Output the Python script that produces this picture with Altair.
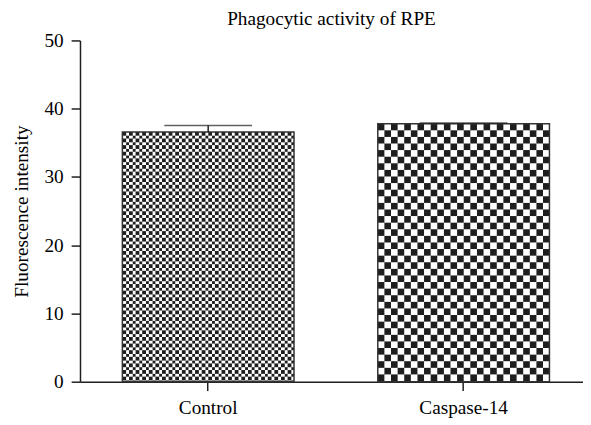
import altair as alt
import pandas as pd
from urllib.parse import quote

groups = ["Control", "Caspase-14"]
means = [36.6, 37.8]
sems = [0.95, 0.12]
y_ticks = [0, 10, 20, 30, 40, 50]

df = pd.DataFrame({"group": groups, "mean": means, "sem": sems})
df["upper"] = df["mean"] + df["sem"]

FONT = "Liberation Serif"
FS = 19.5
INK = "#1e1e1e"


def checker(cell, w, h, ink):
    s = cell
    svg = (
        f"<svg xmlns='http://www.w3.org/2000/svg' width='{w}' height='{h}' shape-rendering='crispEdges'>"
        f"<defs><pattern id='p' width='{2*s}' height='{2*s}' patternUnits='userSpaceOnUse'>"
        f"<rect width='{2*s}' height='{2*s}' fill='white'/>"
        f"<rect width='{s}' height='{s}' fill='{ink}'/>"
        f"<rect x='{s}' y='{s}' width='{s}' height='{s}' fill='{ink}'/>"
        "</pattern></defs><rect width='100%' height='100%' fill='url(#p)'/></svg>"
    )
    return "data:image/svg+xml;charset=utf-8," + quote(svg)


fine_url = checker(3.35, 174, 253, INK)
coarse_url = checker(6.7, 174, 262, INK)

x_enc = alt.X(
    "group:N",
    sort=groups,
    scale=alt.Scale(paddingInner=0.328, paddingOuter=0.1486, align=0.558),
    axis=alt.Axis(
        title=None,
        labelAngle=0,
        labelFont=FONT,
        labelFontSize=FS,
        labelColor="black",
        labelPadding=8,
        tickSize=9,
        tickColor=INK,
        tickWidth=1.5,
        domainColor=INK,
        domainWidth=1.5,
    ),
)
y_enc = alt.Y(
    "mean:Q",
    scale=alt.Scale(domain=[0, 50], nice=False),
    axis=alt.Axis(
        title="Fluorescence intensity",
        values=y_ticks,
        grid=False,
        labelFont=FONT,
        labelFontSize=FS,
        labelColor="black",
        labelPadding=8,
        tickSize=9,
        tickColor=INK,
        tickWidth=1.5,
        domainColor=INK,
        domainWidth=1.5,
        titleFont=FONT,
        titleFontSize=FS,
        titleFontWeight="normal",
        titleColor="black",
        titlePadding=13,
    ),
)

base = alt.Chart(df)

fill_bars = base.mark_bar(color="#7a7a7a").encode(x=x_enc, y=y_enc, y2=alt.datum(0))

img_fine = (
    base.transform_filter(alt.datum.group == "Control")
    .mark_image(url=fine_url, aspect=False, width=alt.RelativeBandSize(1))
    .encode(x=x_enc, y=y_enc, y2=alt.datum(0))
)
img_coarse = (
    base.transform_filter(alt.datum.group == "Caspase-14")
    .mark_image(url=coarse_url, aspect=False, width=alt.RelativeBandSize(1))
    .encode(x=x_enc, y=y_enc, y2=alt.datum(0))
)

outline = base.mark_bar(fillOpacity=0, stroke="#333333", strokeWidth=1.5).encode(
    x=x_enc, y=y_enc, y2=alt.datum(0)
)

err_rule = base.mark_rule(color=INK, strokeWidth=1.5).encode(
    x=x_enc, y=alt.Y("mean:Q"), y2=alt.Y2("upper:Q")
)
err_cap = base.mark_tick(color=INK, thickness=1.5, size=89).encode(
    x=x_enc, y=alt.Y("upper:Q")
)

chart = (
    alt.layer(fill_bars, img_fine, img_coarse, outline, err_rule, err_cap)
    .properties(
        width=510,
        height=346,
        title=alt.TitleParams(
            "Phagocytic activity of RPE",
            font=FONT,
            fontSize=FS,
            fontWeight="normal",
            color="black",
            anchor="middle",
            offset=1,
        ),
        autosize=alt.AutoSizeParams(type="none"),
        padding={"left": 73, "top": 30, "right": 0, "bottom": 41},
    )
    .configure_view(strokeWidth=0)
)

chart.save("out.html", embed_options={"renderer": "svg", "actions": False})
